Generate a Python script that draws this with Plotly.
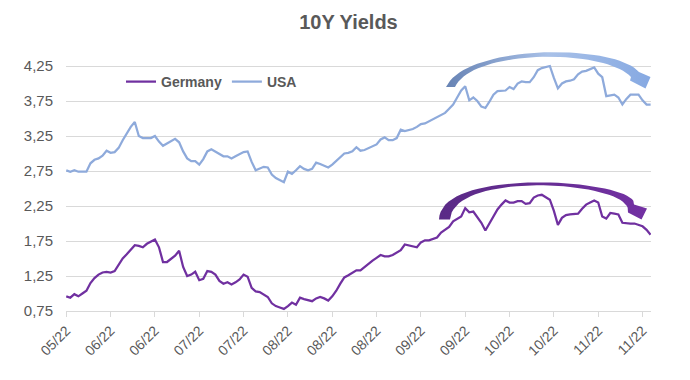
import numpy as np
import plotly.graph_objects as go

# ---------------- data ----------------
tick_labels = ["05/22", "06/22", "06/22", "07/22", "07/22", "08/22", "08/22",
               "08/22", "09/22", "09/22", "10/22", "10/22", "11/22", "11/22"]

usa = [2.76, 2.74, 2.76, 2.74, 2.74, 2.74, 2.86, 2.91, 2.93, 2.97,
       3.04, 3.01, 3.02, 3.08, 3.19, 3.28, 3.38, 3.45, 3.25, 3.22,
       3.22, 3.22, 3.25, 3.17, 3.11, 3.14, 3.18, 3.21, 3.16, 3.03,
       2.93, 2.89, 2.89, 2.84, 2.92, 3.03, 3.06, 3.03, 2.99, 2.96,
       2.96, 2.93, 2.96, 2.99, 3.02, 3.03, 2.88, 2.76, 2.79, 2.81,
       2.80, 2.70, 2.65, 2.62, 2.59, 2.74, 2.71, 2.76, 2.82, 2.78,
       2.76, 2.78, 2.87, 2.85, 2.82, 2.80, 2.84, 2.89, 2.94, 3.00,
       3.01, 3.03, 3.09, 3.04, 3.05, 3.08, 3.10, 3.13, 3.20, 3.23,
       3.19, 3.19, 3.22, 3.34, 3.32, 3.33, 3.35, 3.38, 3.42, 3.43,
       3.46, 3.48, 3.52, 3.55, 3.58, 3.64, 3.70, 3.80, 3.90, 3.96,
       3.76, 3.80, 3.75, 3.67, 3.65, 3.74, 3.84, 3.89, 3.90, 3.90,
       3.95, 3.92, 4.00, 4.03, 4.02, 4.02, 4.09, 4.19, 4.22, 4.23,
       4.25, 4.08, 3.93, 4.00, 4.03, 4.04, 4.06, 4.13, 4.17, 4.18,
       4.20, 4.23, 4.14, 4.09, 3.82, 3.83, 3.84, 3.80, 3.70, 3.78,
       3.84, 3.84, 3.84, 3.76, 3.70, 3.70]

germany = [0.96, 0.94, 0.99, 0.96, 1.00, 1.04, 1.15, 1.22, 1.27, 1.30,
           1.31, 1.30, 1.32, 1.42, 1.50, 1.56, 1.63, 1.69, 1.68, 1.66,
           1.71, 1.74, 1.77, 1.66, 1.45, 1.45, 1.50, 1.54, 1.61, 1.38,
           1.25, 1.27, 1.31, 1.19, 1.21, 1.32, 1.31, 1.27, 1.18, 1.14,
           1.16, 1.13, 1.16, 1.20, 1.27, 1.24, 1.08, 1.03, 1.02, 0.98,
           0.95, 0.86, 0.82, 0.80, 0.78, 0.82, 0.87, 0.84, 0.94, 0.92,
           0.90, 0.89, 0.93, 0.95, 0.93, 0.90, 0.96, 1.04, 1.14, 1.23,
           1.26, 1.29, 1.33, 1.33, 1.38, 1.43, 1.47, 1.51, 1.55, 1.53,
           1.53, 1.55, 1.59, 1.62, 1.70, 1.69, 1.67, 1.66, 1.73, 1.76,
           1.76, 1.78, 1.80, 1.87, 1.91, 1.95, 2.03, 2.06, 2.10, 2.22,
           2.16, 2.17, 2.09, 2.01, 1.90, 2.00, 2.12, 2.20, 2.27, 2.33,
           2.30, 2.30, 2.32, 2.32, 2.28, 2.29, 2.37, 2.40, 2.41, 2.37,
           2.34, 2.18, 1.98, 2.08, 2.12, 2.13, 2.14, 2.14, 2.21, 2.27,
           2.30, 2.33, 2.30, 2.10, 2.07, 2.15, 2.14, 2.13, 2.01, 2.00,
           2.00, 2.00, 1.98, 1.96, 1.91, 1.84]

y_ticks = [0.75, 1.25, 1.75, 2.25, 2.75, 3.25, 3.75, 4.25]

x = list(range(len(usa)))
tick_pos = list(range(0, 11 * len(tick_labels), 11))

# ---------------- layout geometry ----------------
W, H = 690, 380
ML, MR, MT, MB = 66, 39, 34, 69
PW, PH = W - ML - MR, H - MT - MB
X0, X1 = -0.07, 145.1
Y0 = 0.75
Y1 = Y0 + PH / 70.0


def to_data(px, py):
    return (X0 + (px - ML) * (X1 - X0) / PW, Y1 - (py - MT) * (Y1 - Y0) / PH)


def bez(p0, p1, p2, p3, n=40):
    t = np.linspace(0, 1, n)[:, None]
    p0, p1, p2, p3 = map(np.array, (p0, p1, p2, p3))
    return ((1 - t) ** 3 * p0 + 3 * (1 - t) ** 2 * t * p1
            + 3 * (1 - t) * t ** 2 * p2 + t ** 3 * p3)


def arrow(outer, inner, head):
    o = bez(*outer)
    i = bez(*inner)[::-1]
    pts = np.vstack([o, np.array(head), i, o[:1]])
    xs, ys = zip(*[to_data(px, py) for px, py in pts])
    return list(xs), list(ys)


fig = go.Figure()

# curved arrows (decoration)
bx, by = arrow(((446, 87), (466, 44), (614, 43), (639, 72)),
               ((455, 87), (472, 49), (604, 48), (631, 77)),
               [(650.5, 77), (645.5, 88.5), (630, 80.5)])
fig.add_trace(go.Scatter(x=bx, y=by, mode="lines", fill="toself",
                         line=dict(width=0, color="rgba(0,0,0,0)"),
                         fillgradient=dict(type="horizontal",
                                           colorscale=[[0, "#6783b4"], [0.5, "#a9c1e8"], [1, "#86a9e2"]]),
                         showlegend=False, hoverinfo="skip"))

gx, gy = arrow(((439, 219.5), (440, 165), (640, 180), (634, 204.5)),
               ((450, 219.5), (453, 170), (628, 181), (628, 210)),
               [(647, 208.5), (641.5, 219.5), (628, 212.5)])
fig.add_trace(go.Scatter(x=gx, y=gy, mode="lines", fill="toself",
                         line=dict(width=0, color="rgba(0,0,0,0)"),
                         fillgradient=dict(type="horizontal",
                                           colorscale=[[0, "#5a2a86"], [1, "#7331a3"]]),
                         showlegend=False, hoverinfo="skip"))

fig.add_trace(go.Scatter(x=x, y=germany, mode="lines", name="Germany",
                         line=dict(color="#7030A0", width=2.25)))
fig.add_trace(go.Scatter(x=x, y=usa, mode="lines", name="USA",
                         line=dict(color="#8EAADB", width=2.25)))

fig.update_layout(
    width=W, height=H,
    margin=dict(l=ML, r=MR, t=MT, b=MB, autoexpand=False),
    paper_bgcolor="white", plot_bgcolor="white",
    separators=",.",
    font=dict(family="Liberation Sans, Arial, sans-serif", color="#595959", size=13),
    title=dict(text="<b>10Y Yields</b>", x=0.505, xanchor="center",
               y=1 - 22 / H, yanchor="middle",
               font=dict(size=20, color="#595959",
                         family="Liberation Sans Narrow, Liberation Sans, Arial")),
    legend=dict(orientation="h", x=0.094, y=(H - MB - 82) / PH, xanchor="left",
                yanchor="middle", bgcolor="rgba(0,0,0,0)",
                font=dict(size=14, color="#595959", weight="bold"),
                traceorder="normal", itemwidth=30),
    showlegend=True,
)

fig.update_xaxes(range=[X0, X1], tickmode="array", tickvals=tick_pos,
                 ticktext=tick_labels, tickangle=-45, showgrid=False,
                 showline=True, linecolor="#d9d9d9", linewidth=1,
                 ticks="outside", ticklen=5, tickcolor="#d9d9d9",
                 tickfont=dict(size=14, color="#595959"), zeroline=False,
                 automargin=False)
fig.update_yaxes(range=[Y0, Y1], tickmode="array", tickvals=y_ticks,
                 tickformat=".2f", showgrid=True, gridcolor="#d9d9d9",
                 gridwidth=1, zeroline=False, showline=False, ticks="",
                 ticklabelstandoff=12, automargin=False,
                 tickfont=dict(size=15, color="#595959"))

fig.write_html("out.html", config={"displayModeBar": False},
               post_script="document.body.style.margin='0';document.body.style.overflow='hidden';")
